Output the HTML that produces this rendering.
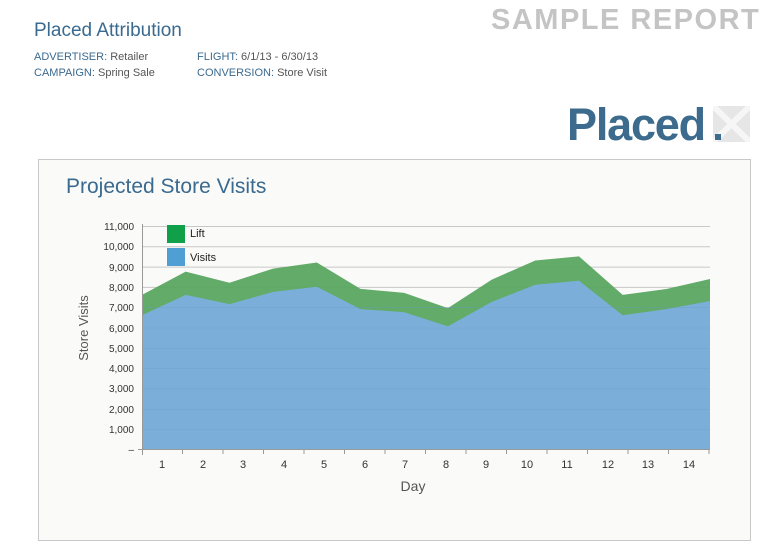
<!DOCTYPE html>
<html><head><meta charset="utf-8"><style>
body{margin:0;width:778px;height:529px;background:#fff;overflow:hidden;font-family:"Liberation Sans",sans-serif;position:relative}
.a{position:absolute;white-space:nowrap}
.b{color:#3a6a90}
.g{color:#555}
</style></head><body>
<div class="a b" style="left:34px;top:20px;font-size:19px;">Placed Attribution</div>
<div class="a" style="left:34px;top:51px;font-size:11px;"><span class="b">ADVERTISER:</span> <span class="g">Retailer</span></div>
<div class="a" style="left:34px;top:67px;font-size:11px;"><span class="b">CAMPAIGN:</span> <span class="g">Spring Sale</span></div>
<div class="a" style="left:197px;top:51px;font-size:11px;"><span class="b">FLIGHT:</span> <span class="g">6/1/13 - 6/30/13</span></div>
<div class="a" style="left:197px;top:67px;font-size:11px;"><span class="b">CONVERSION:</span> <span class="g">Store Visit</span></div>
<div class="a" style="left:491px;top:4px;font-size:29px;font-weight:bold;color:#c4c4c4;letter-spacing:1.5px">SAMPLE REPORT</div>
<div class="a" style="left:567px;top:99px;font-size:45px;font-weight:bold;color:#3d6b8e;letter-spacing:-1.2px">Placed</div>
<svg class="a" style="left:713px;top:106px" width="37" height="36"><rect width="37" height="36" fill="#e6e6e6"/><path d="M0 0L37 36M37 0L0 36" stroke="#f6f6f6" stroke-width="6"/><rect x="2" y="28" width="6" height="6" fill="#3d6b8e"/></svg>
<div class="a" style="left:38px;top:159px;width:711px;height:380px;border:1px solid #c8c8c8;background:#fafaf9"></div>
<div class="a b" style="left:66px;top:175px;font-size:21px;">Projected Store Visits</div>
<svg class="a" style="left:0;top:0" width="778" height="529">
<g stroke="#c8c8c8" stroke-width="1">
<line x1="142" x2="710" y1="226.5" y2="226.5"/><line x1="142" x2="710" y1="246.8" y2="246.8"/><line x1="142" x2="710" y1="267.1" y2="267.1"/><line x1="142" x2="710" y1="287.4" y2="287.4"/><line x1="142" x2="710" y1="307.7" y2="307.7"/><line x1="142" x2="710" y1="328" y2="328"/><line x1="142" x2="710" y1="348.3" y2="348.3"/><line x1="142" x2="710" y1="368.6" y2="368.6"/><line x1="142" x2="710" y1="388.9" y2="388.9"/><line x1="142" x2="710" y1="409.2" y2="409.2"/><line x1="142" x2="710" y1="429.5" y2="429.5"/>
</g>
<polygon fill="#5aa660" opacity="0.95" points="142,449 142,294.9 185.7,271.6 229.4,282.8 273.1,268.6 316.8,262.5 360.5,288.9 404.2,292.9 447.9,308.1 491.6,279.7 535.3,260.5 579,256.4 622.7,294.9 666.4,289 710,279 710,449"/>
<polygon fill="#7bafda" points="142,449 142,315.2 185.7,294.9 229.4,304.1 273.1,291.9 316.8,286.8 360.5,309.1 404.2,312.2 447.9,326.4 491.6,302 535.3,284.8 579,280.8 622.7,315.2 666.4,309.1 710,301 710,449"/>
<g stroke="#6f9cc4" stroke-width="0.6" opacity="0.6">
<line x1="142" x2="710" y1="307.7" y2="307.7"/><line x1="142" x2="710" y1="328" y2="328"/><line x1="142" x2="710" y1="348.3" y2="348.3"/><line x1="142" x2="710" y1="368.6" y2="368.6"/><line x1="142" x2="710" y1="388.9" y2="388.9"/><line x1="142" x2="710" y1="409.2" y2="409.2"/><line x1="142" x2="710" y1="429.5" y2="429.5"/>
</g>
<g stroke="#999" stroke-width="1"><line x1="142.5" x2="142.5" y1="224" y2="455"/><line x1="138" x2="710" y1="449.5" y2="449.5"/>
<path d="M182.5 449v5M223 449v5M263.5 449v5M304 449v5M344.5 449v5M385 449v5M425.5 449v5M466 449v5M506.5 449v5M547 449v5M587.5 449v5M628 449v5M668.5 449v5M709 449v5"/></g>
<g font-size="10" fill="#333" text-anchor="end">
<text x="134" y="230">11,000</text><text x="134" y="250">10,000</text><text x="134" y="271">9,000</text><text x="134" y="291">8,000</text><text x="134" y="311">7,000</text><text x="134" y="332">6,000</text><text x="134" y="352">5,000</text><text x="134" y="372">4,000</text><text x="134" y="392">3,000</text><text x="134" y="413">2,000</text><text x="134" y="433">1,000</text><text x="134" y="453">–</text>
</g>
<g font-size="11" fill="#333" text-anchor="middle">
<text x="162" y="468">1</text><text x="203" y="468">2</text><text x="243" y="468">3</text><text x="284" y="468">4</text><text x="324" y="468">5</text><text x="365" y="468">6</text><text x="405" y="468">7</text><text x="446" y="468">8</text><text x="486" y="468">9</text><text x="527" y="468">10</text><text x="567" y="468">11</text><text x="608" y="468">12</text><text x="648" y="468">13</text><text x="689" y="468">14</text>
</g>
<text x="413" y="491" font-size="14" fill="#555" text-anchor="middle">Day</text>
<text transform="translate(88,328) rotate(-90)" font-size="13" fill="#555" text-anchor="middle">Store Visits</text>
<rect x="167" y="225" width="18" height="18" fill="#11a04a"/>
<rect x="167" y="248" width="18" height="18" fill="#4f9fd4"/>
<text x="190" y="237" font-size="11" fill="#222">Lift</text>
<text x="190" y="261" font-size="11" fill="#222">Visits</text>
</svg>
</body></html>
